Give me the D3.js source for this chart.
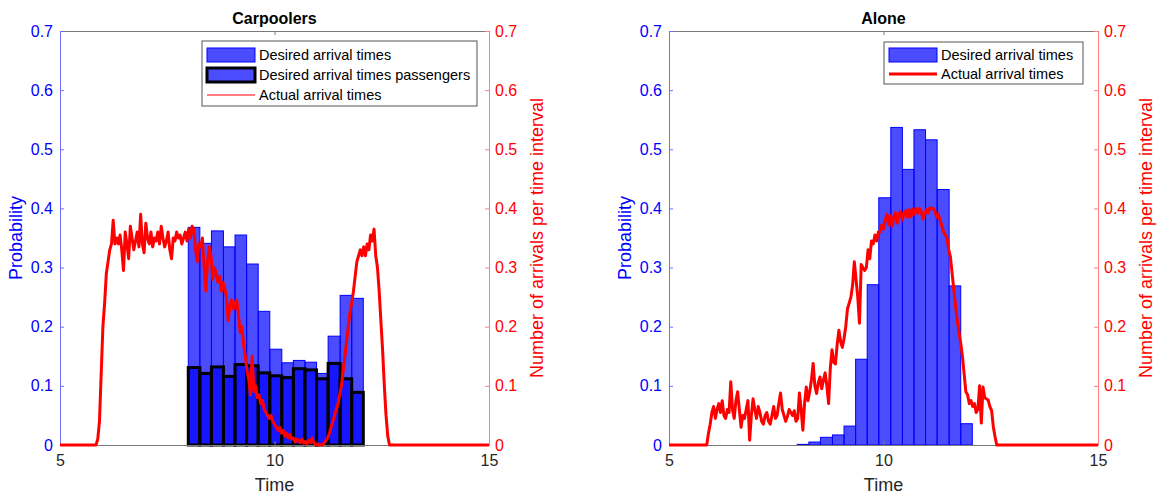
<!DOCTYPE html>
<html>
<head>
<meta charset="utf-8">
<script src="https://cdn.jsdelivr.net/npm/d3@7"></script>
<style>
  body { margin: 0; background: #fff; }
  svg { display: block; font-family: "Liberation Sans", Arial, Helvetica, sans-serif; }
</style>
</head>
<body>
<svg id="chart" width="1169" height="497"></svg>
<script>
// ---------------- DATA ----------------
const binEdges = [7.99, 8.26, 8.53, 8.81, 9.08, 9.35, 9.62, 9.89, 10.17, 10.44, 10.71, 10.98, 11.25, 11.53, 11.80, 12.07];

const carpoolDesired = [0.368, 0.341, 0.362, 0.335, 0.355, 0.306, 0.226, 0.162, 0.139, 0.143, 0.140, 0.121, 0.184, 0.253, 0.248];
const carpoolPassengers = [0.131, 0.121, 0.132, 0.116, 0.136, 0.134, 0.122, 0.117, 0.114, 0.129, 0.127, 0.112, 0.138, 0.112, 0.089];
const aloneDesired = [0.001, 0.005, 0.013, 0.017, 0.032, 0.145, 0.271, 0.418, 0.537, 0.466, 0.533, 0.516, 0.432, 0.269, 0.036];

// actual arrival times: values sampled every 0.04 starting at the given time
const carpoolActualStart = 5.80;
const aloneActualStart = 5.84;
const actualStep = 0.04;
const carpoolActual = [
  0, 0, 0.01, 0.04, 0.12, 0.20, 0.24, 0.29, 0.31, 0.33,
  0.34, 0.38, 0.34, 0.35, 0.34, 0.355, 0.33, 0.295, 0.36, 0.34,
  0.315, 0.37, 0.35, 0.33, 0.345, 0.36, 0.335, 0.39, 0.34, 0.325,
  0.375, 0.35, 0.34, 0.36, 0.335, 0.35, 0.345, 0.36, 0.34, 0.37,
  0.35, 0.335, 0.345, 0.36, 0.33, 0.315, 0.35, 0.345, 0.36, 0.35,
  0.355, 0.34, 0.35, 0.36, 0.345, 0.365, 0.35, 0.37, 0.365, 0.33,
  0.31, 0.34, 0.335, 0.35, 0.30, 0.26, 0.31, 0.335, 0.32, 0.28,
  0.30, 0.29, 0.275, 0.285, 0.26, 0.275, 0.265, 0.25, 0.21, 0.235,
  0.245, 0.23, 0.24, 0.245, 0.22, 0.19, 0.20, 0.17, 0.15, 0.125,
  0.11, 0.085, 0.15, 0.09, 0.10, 0.08, 0.085, 0.07, 0.075, 0.06,
  0.055, 0.05, 0.045, 0.05, 0.04, 0.035, 0.03, 0.025, 0.03, 0.02,
  0.025, 0.015, 0.02, 0.012, 0.018, 0.01, 0.012, 0.005, 0.01, 0.008,
  0.004, 0.01, 0.003, 0.006, 0.002, 0.008, 0.004, 0.012, 0.003, 0.0,
  0.002, 0.0, 0.001, 0.0, 0.004, 0.008, 0.012, 0.02, 0.03, 0.04,
  0.05, 0.06, 0.07, 0.085, 0.10, 0.125, 0.15, 0.175, 0.20, 0.225,
  0.24, 0.26, 0.285, 0.31, 0.32, 0.33, 0.32, 0.335, 0.32, 0.34,
  0.33, 0.355, 0.345, 0.365, 0.32, 0.30, 0.26, 0.21, 0.16, 0.10,
  0.05, 0.015, 0, 0
];
const aloneActual = [
  0, 0, 0.02, 0.035, 0.055, 0.065, 0.045, 0.06, 0.07, 0.055,
  0.075, 0.05, 0.045, 0.06, 0.055, 0.107, 0.06, 0.045, 0.075, 0.09,
  0.06, 0.03, 0.05, 0.045, 0.06, 0.075, 0.008, 0.05, 0.078, 0.06,
  0.045, 0.065, 0.055, 0.04, 0.035, 0.05, 0.055, 0.04, 0.035, 0.05,
  0.065, 0.045, 0.05, 0.07, 0.088, 0.06, 0.05, 0.04, 0.048, 0.06,
  0.055, 0.05, 0.058, 0.04, 0.045, 0.088, 0.06, 0.025, 0.07, 0.098,
  0.075, 0.09, 0.11, 0.138, 0.10, 0.087, 0.105, 0.115, 0.095, 0.11,
  0.122, 0.10, 0.07, 0.13, 0.161, 0.14, 0.137, 0.17, 0.194, 0.175,
  0.165, 0.18, 0.20, 0.23, 0.24, 0.25, 0.27, 0.31, 0.28, 0.25,
  0.206, 0.305, 0.30, 0.295, 0.30, 0.33, 0.315, 0.345, 0.34, 0.355,
  0.345, 0.36, 0.36, 0.372, 0.365, 0.38, 0.39, 0.372, 0.388, 0.37,
  0.385, 0.393, 0.375, 0.39, 0.395, 0.38, 0.392, 0.396, 0.385, 0.398,
  0.386, 0.399, 0.39, 0.40, 0.392, 0.40, 0.395, 0.382, 0.39, 0.398,
  0.392, 0.401, 0.399, 0.40, 0.396, 0.385, 0.39, 0.38, 0.37, 0.36,
  0.355, 0.35, 0.33, 0.318, 0.29, 0.262, 0.235, 0.21, 0.19, 0.172,
  0.15, 0.12, 0.09, 0.085, 0.07, 0.075, 0.065, 0.07, 0.055, 0.06,
  0.10, 0.037, 0.098, 0.08, 0.078, 0.076, 0.065, 0.058, 0.031, 0.014,
  0, 0
];

const xTicks = [5, 10, 15];
const yTicks = [0, 0.1, 0.2, 0.3, 0.4, 0.5, 0.6, 0.7];
const titles = ["Carpoolers", "Alone"];

// ---------------- DRAW ----------------
const svg = d3.select("#chart");
const BLUE = "#0000ff", RED = "#ff0000";
const FACE = "rgba(0,0,255,0.7)";

function panel(cfg) {
  const x = d3.scaleLinear().domain([5, 15]).range([cfg.left, cfg.right]);
  const yL = d3.scaleLinear().domain([0, 0.7]).range([cfg.bottom, cfg.top]);
  const yR = d3.scaleLinear().domain([0, 0.7]).range([cfg.bottom, cfg.top]);
  const g = svg.append("g");

  // bars
  const bins = cfg.desired.map((v, i) => ({x0: binEdges[i], x1: binEdges[i + 1], v}));
  g.append("g").selectAll("rect").data(bins).join("rect")
    .attr("x", d => x(d.x0)).attr("width", d => x(d.x1) - x(d.x0))
    .attr("y", d => yL(d.v)).attr("height", d => yL(0) - yL(d.v))
    .attr("fill", FACE).attr("stroke", BLUE).attr("stroke-width", 1);

  if (cfg.passengers) {
    const pb = cfg.passengers.map((v, i) => ({x0: binEdges[i], x1: binEdges[i + 1], v}));
    g.append("g").selectAll("rect").data(pb).join("rect")
      .attr("x", d => x(d.x0)).attr("width", d => x(d.x1) - x(d.x0))
      .attr("y", d => yL(d.v)).attr("height", d => yL(0) - yL(d.v))
      .attr("fill", FACE).attr("stroke", "#000").attr("stroke-width", 3);
  }

  // axes (box)
  const axG = g.append("g");
  const bottomAx = d3.axisBottom(x).tickValues(xTicks).tickSizeInner(-4).tickSizeOuter(0).tickPadding(10).tickFormat(d3.format("d"));
  const topAx = d3.axisTop(x).tickValues(xTicks).tickSizeInner(-4).tickSizeOuter(0).tickFormat("");
  const leftAx = d3.axisLeft(yL).tickValues(yTicks).tickSizeInner(-4).tickSizeOuter(0).tickPadding(7).tickFormat(d => d === 0 ? "0" : d3.format(".1f")(d));
  const rightAx = d3.axisRight(yR).tickValues(yTicks).tickSizeInner(-4).tickSizeOuter(0).tickPadding(6).tickFormat(d => d === 0 ? "0" : d3.format(".1f")(d));

  const bAx = axG.append("g").attr("transform", `translate(0,${cfg.bottom})`).call(bottomAx);
  bAx.select(".domain").attr("stroke", "#7a7a7a");
  bAx.selectAll(".tick line").attr("stroke", "#7a7a7a");
  bAx.selectAll("text").attr("fill", "#262626").style("font-size", "16px");

  const tAx = axG.append("g").attr("transform", `translate(0,${cfg.top})`).call(topAx);
  tAx.select(".domain").attr("stroke", "#7a7a7a");
  tAx.selectAll(".tick line").attr("stroke", "#7a7a7a");

  const lAx = axG.append("g").attr("transform", `translate(${cfg.left},0)`).call(leftAx);
  lAx.select(".domain").attr("stroke", "#7070ff");
  lAx.selectAll(".tick line").attr("stroke", "#7070ff");
  lAx.selectAll("text").attr("fill", BLUE).style("font-size", "16px");

  const rAx = axG.append("g").attr("transform", `translate(${cfg.right},0)`).call(rightAx);
  rAx.select(".domain").attr("stroke", "#ff8080");
  rAx.selectAll(".tick line").attr("stroke", "#ff8080");
  rAx.selectAll("text").attr("fill", RED).style("font-size", "16px");
  svg.selectAll(".domain").attr("stroke-width", 1);

  // actual arrival line
  const pts = [[5, 0]].concat(cfg.actual.map((v, i) => [cfg.actualStart + i * actualStep, v]), [[15, 0]]);
  g.append("path").datum(pts)
    .attr("d", d3.line().x(d => x(d[0])).y(d => yR(d[1])))
    .attr("fill", "none").attr("stroke", RED).attr("stroke-width", 3).attr("stroke-linejoin", "round");

  // labels
  const cx = (cfg.left + cfg.right) / 2, cy = (cfg.top + cfg.bottom) / 2;
  g.append("text").attr("x", cx).attr("y", 24).attr("text-anchor", "middle")
    .style("font-size", "16px").style("font-weight", "bold").attr("fill", "#000").text(cfg.title);
  g.append("text").attr("x", cx).attr("y", 491).attr("text-anchor", "middle")
    .style("font-size", "18px").attr("fill", "#262626").text("Time");
  g.append("text").attr("transform", `translate(${cfg.left - 38},${cy}) rotate(-90)`).attr("text-anchor", "middle")
    .style("font-size", "18px").attr("fill", BLUE).text("Probability");
  g.append("text").attr("transform", `translate(${cfg.right + 54},${cy}) rotate(-90)`).attr("text-anchor", "middle")
    .style("font-size", "18px").attr("fill", RED).text("Number of arrivals per time interval");

  // legend
  const L = cfg.legend;
  const lg = g.append("g");
  lg.append("rect").attr("x", L.x).attr("y", L.y).attr("width", L.w).attr("height", L.h)
    .attr("fill", "#fff").attr("stroke", "#555").attr("stroke-width", 1);
  L.items.forEach((it, i) => {
    const ry = L.y + L.rowStart + i * L.rowGap;
    if (it.type === "patch") {
      lg.append("rect").attr("x", L.x + 5).attr("y", ry - 7).attr("width", 48).attr("height", 14)
        .attr("fill", FACE).attr("stroke", it.edge).attr("stroke-width", it.ew);
    } else {
      lg.append("line").attr("x1", L.x + 5).attr("x2", L.x + 53).attr("y1", ry).attr("y2", ry)
        .attr("stroke", RED).attr("stroke-width", it.lw);
    }
    lg.append("text").attr("x", L.x + 57).attr("y", ry + 5).style("font-size", "14.5px")
      .attr("fill", "#000").text(it.label);
  });
}

panel({
  left: 60, right: 489, top: 31, bottom: 445, title: titles[0],
  desired: carpoolDesired, passengers: carpoolPassengers,
  actual: carpoolActual, actualStart: carpoolActualStart,
  legend: {x: 202, y: 41, w: 275, h: 65, rowStart: 14, rowGap: 20, items: [
    {type: "patch", edge: BLUE, ew: 1, label: "Desired arrival times"},
    {type: "patch", edge: "#000", ew: 3, label: "Desired arrival times passengers"},
    {type: "line", lw: 1.2, label: "Actual arrival times"}
  ]}
});
panel({
  left: 669, right: 1098, top: 31, bottom: 445, title: titles[1],
  desired: aloneDesired, passengers: null,
  actual: aloneActual, actualStart: aloneActualStart,
  legend: {x: 884, y: 42, w: 199, h: 42, rowStart: 13, rowGap: 19, items: [
    {type: "patch", edge: BLUE, ew: 1, label: "Desired arrival times"},
    {type: "line", lw: 3, label: "Actual arrival times"}
  ]}
});
</script>
</body>
</html>
